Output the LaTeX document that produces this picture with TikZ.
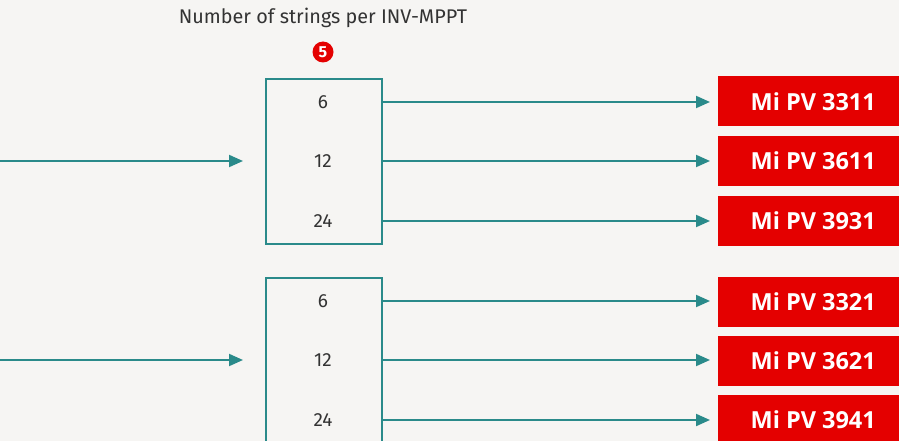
\documentclass[tikz,border=0pt]{standalone}
\usepackage{fontspec}
\setmainfont{Fira Sans}
\newfontfamily\modelfont{Open Sans}
\usetikzlibrary{arrows.meta}
\definecolor{bg}{HTML}{F6F5F3}
\definecolor{teal}{HTML}{2A8A8A}
\definecolor{mred}{HTML}{E40000}
\definecolor{txt}{HTML}{333333}
\tikzset{
  arr/.style={draw=teal, line width=2pt, -{Triangle[length=14pt,width=12pt]}},
  grp/.style={draw=teal, line width=2pt, fill=none},
  num/.style={font=\fontsize{19}{21}\selectfont, text=txt},
  model/.style={fill=mred, minimum height=50pt, minimum width=190pt, inner sep=0pt, anchor=west,
    font=\modelfont\fontsize{23.5}{25}\selectfont\bfseries, text=white, align=center},
}
\begin{document}
\begin{tikzpicture}[x=1pt,y=-1pt]
\useasboundingbox (0,0) rectangle (899,441);
\path[fill=bg] (0,0) rectangle (899,441);
\clip (0,0) rectangle (899,441);
\node[font=\fontsize{19.8}{21}\selectfont, text=txt] (title) at (323,18) {Number of strings per INV-MPPT};
\node[circle, fill=mred, minimum size=21pt, inner sep=0pt, text=white, font=\fontsize{16}{16}\selectfont\bfseries] (five) at (323,52) {5};
% group 1
\node[grp, minimum width=116pt, minimum height=165pt, anchor=north west, inner sep=0pt] (b1) at (265,78) {};
\node[num] (n11) at (323,102) {6};
\node[num] (n12) at (323,161) {12};
\node[num] (n13) at (323,221) {24};
\node[model] (m11) at (718,101.5) {Mi PV 3311};
\node[model] (m12) at (718,161) {Mi PV 3611};
\node[model] (m13) at (718,220.5) {Mi PV 3931};
\coordinate (in1) at (0,161);
\coordinate (e1) at (243,161);
\draw[arr] (in1) -- (e1);
\foreach \i in {1,2,3}{
  \draw[arr] (b1.east |- n1\i) -- ([xshift=-8pt]m1\i.west |- n1\i);
}
% group 2
\node[grp, minimum width=116pt, minimum height=200pt, anchor=north west, inner sep=0pt] (b2) at (265,277) {};
\node[num] (n21) at (323,301) {6};
\node[num] (n22) at (323,360) {12};
\node[num] (n23) at (323,420) {24};
\node[model] (m21) at (718,301.5) {Mi PV 3321};
\node[model] (m22) at (718,360.5) {Mi PV 3621};
\node[model] (m23) at (718,419.5) {Mi PV 3941};
\coordinate (in2) at (0,360);
\coordinate (e2) at (243,360);
\draw[arr] (in2) -- (e2);
\foreach \i in {1,2,3}{
  \draw[arr] (b2.east |- n2\i) -- ([xshift=-8pt]m2\i.west |- n2\i);
}
\end{tikzpicture}
\end{document}
